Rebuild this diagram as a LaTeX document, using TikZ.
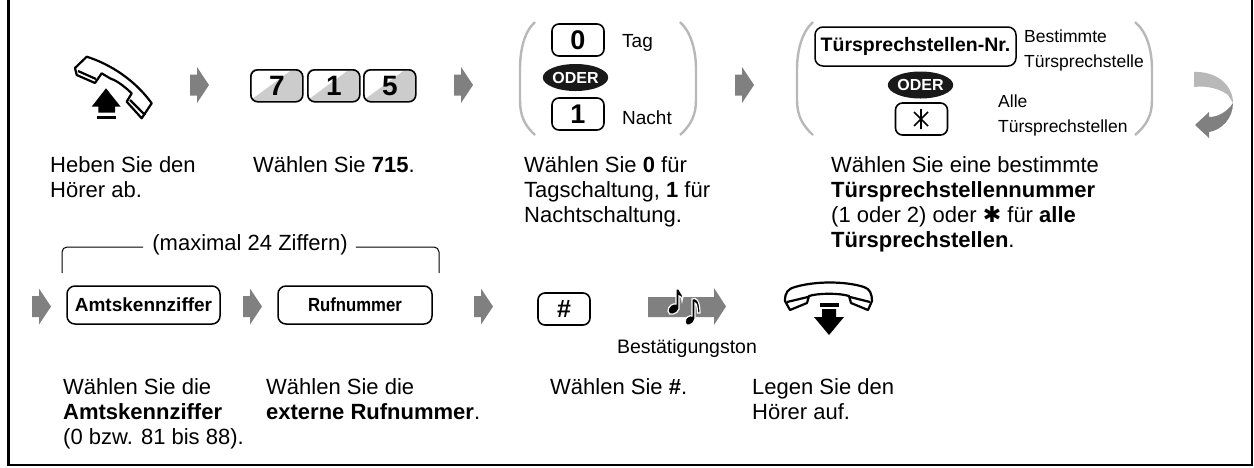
\documentclass[tikz,border=0pt]{standalone}
\usepackage{fontspec}
\usepackage{graphicx}
\setmainfont{Liberation Sans}
\newfontfamily\symfont{DejaVu Sans}
\usetikzlibrary{shapes.geometric}
\definecolor{arrowgray}{gray}{0.5}
\definecolor{brk}{gray}{0.72}
\definecolor{keyshade}{gray}{0.8}
\definecolor{ink}{gray}{0.1}
\tikzset{
  keybox/.style={draw=black,line width=1.6pt,rounded corners=7pt,fill=white,minimum width=52pt,minimum height=32pt,inner sep=0pt,font=\fontsize{27}{27}\selectfont\bfseries},
  softkey/.style={draw=black,line width=1.5pt,rounded corners=8pt,fill=white,inner sep=0pt,font=\fontsize{19}{19}\selectfont\bfseries},
  desc/.style={anchor=north west,align=left,inner sep=0pt,font=\fontsize{22}{25}\selectfont},
  lab/.style={anchor=west,align=left,inner sep=0pt,font=\fontsize{19}{19}\selectfont},
  smalllab/.style={anchor=west,align=left,inner sep=0pt,font=\fontsize{17.5}{25}\selectfont},
  oder/.style={ellipse,fill=ink,text=white,inner sep=0pt,minimum width=55pt,minimum height=27pt,font=\fontsize{16}{16}\selectfont\bfseries},
  brack/.style={draw=brk,line width=2.4pt},
  notehalo/.style={draw=white,line width=1.2pt,fill=black},
}
\newcommand{\flowarrow}[2]{\fill[arrowgray] (#1-19,#2-10.5) -- (#1-12,#2-10.5) -- (#1-12,#2-18) -- (#1,#2) -- (#1-12,#2+18) -- (#1-12,#2+10.5) -- (#1-19,#2+10.5) -- cycle;}
\begin{document}
\begin{tikzpicture}[x=1pt,y=-1pt]
\useasboundingbox (0,0) rectangle (1254,467);
\draw[line width=2.5pt] (8.5,-3) -- (8.5,465) -- (1252,465) -- (1252,-3);

% off-hook handset
\begin{scope}[line width=2.2pt,line join=round]
\draw (86.7,56.7) .. controls (110,64) and (135,80) .. (151.7,103.3) -- (141.7,118.3) -- (126.7,101.7) -- (131.7,93.3) .. controls (122,84) and (115,80) .. (110,78.3) -- (101.7,73.3) -- (95,83) -- (76.7,75) -- (75,68) -- cycle;
\draw (78,71) -- (96,79);
\draw (130,100) -- (145,115);
\end{scope}
\fill (106,88.3) -- (120.7,106.7) -- (115,106.7) -- (115,112.7) -- (98.3,112.7) -- (98.3,106.7) -- (91.7,106.7) -- cycle;
\fill (97.3,116) rectangle (116,118.7);

\flowarrow{209}{85}
% 715
\foreach \nm/\xa/\d in {k7/250/7,k1/307/1,k5/363/5}{
  \fill[keyshade,rounded corners=6pt] (\xa,69) rectangle ++(52,32);
  \fill[white] (\xa+2,99) -- (\xa+40,71) -- (\xa+2,71) -- cycle;
  \node[draw=black,line width=1.6pt,rounded corners=7pt,minimum width=52pt,minimum height=32pt,inner sep=0pt,anchor=north west,font=\fontsize{28}{28}\selectfont\bfseries] (\nm) at (\xa,69) {\d};
}
\flowarrow{473}{85}

% bracket day/night
\draw[brack] (535,22) .. controls (524,32) and (520,50) .. (520,70) -- (520,100) .. controls (520,115) and (524,125) .. (535,135);
\draw[brack] (680,22) .. controls (691,32) and (696,50) .. (696,70) -- (696,100) .. controls (696,115) and (691,125) .. (680,135);
\node[keybox] (k0) at (578,40) {0};
\node[oder] (o1) at (575.5,77.5) {ODER};
\node[keybox] (k1b) at (578,114) {1};
\node[lab] (tag) at (622,43) {Tag};
\node[lab] (nacht) at (622,118) {Nacht};
\flowarrow{754}{85}

% bracket door
\draw[brack] (813,22) .. controls (802,32) and (797,50) .. (797,70) -- (797,100) .. controls (797,115) and (802,125) .. (813,135);
\draw[brack] (1135,22) .. controls (1147,32) and (1152,50) .. (1152,70) -- (1152,100) .. controls (1152,115) and (1147,125) .. (1135,135);
\node[softkey,minimum width=201pt,minimum height=39pt] (tnr) at (915.5,46.5) {\fontsize{19.5}{19.5}\selectfont Türsprechstellen-Nr.};
\node[oder] (o2) at (920.5,85) {ODER};
\node[keybox] (star) at (921.5,119) {};
\draw[line width=1.6pt] (921,109) -- (921,129) (914,112) -- (928,126) (928,112) -- (914,126);
\node[smalllab] (best) at (1024,50) {Bestimmte\\Türsprechstelle};
\node[smalllab] (alle) at (998,115.5) {Alle\\Türsprechstellen};

% return arrow
\fill[brk] (1194,72) .. controls (1215,71) and (1233,84) .. (1233,103) -- (1228,95) .. controls (1222,90) and (1208,85) .. (1194,87) -- cycle;
\fill[arrowgray] (1233,103) .. controls (1233,118) and (1222,130) .. (1209,132) -- (1209,138) -- (1195,125) -- (1209,112) -- (1209,117) .. controls (1218,117) and (1227,112) .. (1233,103) -- cycle;

% descriptions row 1
\node[desc] (d1) at (50,156) {Heben Sie den\\Hörer ab.};
\node[desc] (d2) at (253,156) {Wählen Sie \textbf{715}.};
\node[desc] (d3) at (524,156) {Wählen Sie \textbf{0} für\\Tagschaltung, \textbf{1} für\\Nachtschaltung.};
\node[desc] (d4) at (831,156) {Wählen Sie eine bestimmte\\\textbf{Türsprechstellennummer}\\(1 oder 2) oder {\symfont ✱} für \textbf{alle}\\\textbf{Türsprechstellen}.};

% brace
\node[inner sep=0pt,font=\fontsize{22}{22}\selectfont] (max) at (250,245) {(maximal 24 Ziffern)};
\coordinate (bl) at (62,273);
\coordinate (br) at (439,273);
\draw[line width=1pt,rounded corners=5pt] (bl) |- ([xshift=-9pt,yshift=-2pt]max.west);
\draw[line width=1pt,rounded corners=5pt] (br) |- ([xshift=8pt,yshift=-2pt]max.east);

% row 2
\flowarrow{51}{306.5}
\node[softkey,minimum width=153pt,minimum height=38pt] (amt) at (143.5,305) {Amtskennziffer};
\flowarrow{262}{306.5}
\node[softkey,minimum width=154pt,minimum height=38pt] (ruf) at (355,305) {\scalebox{0.88}[1]{Rufnummer}};
\flowarrow{493}{306.5}
\node[keybox,font=\fontsize{25}{25}\selectfont\bfseries] (hash) at (564,309) {\#};
% tone arrow
\fill[arrowgray] (648,297) -- (714,297) -- (714,288) -- (726,306.5) -- (714,325) -- (714,317) -- (648,317) -- cycle;
% first note
\draw[notehalo] (668,311) .. controls (668,306) and (673,303) .. (676,304) -- (676,289) -- (679,289) .. controls (680,293) and (685,295) .. (682,301) .. controls (682,297) and (680,296) .. (679,296) -- (679,309) .. controls (678,314) and (668,317) .. (668,311) -- cycle;
% second note
\draw[notehalo] (685,322) .. controls (685,317) and (690,315) .. (692,316) -- (692,299) .. controls (696,297) and (700,300) .. (700,313) -- (697.5,313) .. controls (697.5,306) and (696,303) .. (695,303) -- (695,319) .. controls (694,325) and (685,328) .. (685,322) -- cycle;
\node[inner sep=0pt,font=\fontsize{19.5}{19.5}\selectfont] (bton) at (687,348) {Bestätigungston};
% on-hook handset
\begin{scope}[line width=2.2pt,line join=round]
\draw (785,301) .. controls (785,292) and (788,289) .. (795,287) .. controls (815,281) and (845,281) .. (864,287) .. controls (870,289) and (872,294) .. (872,301) -- (868,310) -- (851,303) -- (849,296) .. controls (840,293) and (818,293) .. (809,296) -- (807,303) -- (790,310) -- cycle;
\draw (787,302) -- (808,297);
\draw (870,302) -- (850,297);
\end{scope}
\fill (820,303) rectangle (839,307);
\fill (822,309) -- (836,309) -- (836,317) -- (844,317) -- (829,335) -- (814,317) -- (822,317) -- cycle;

% descriptions row 2
\node[desc] (d5) at (63,378) {Wählen Sie die\\\textbf{Amtskennziffer}\\(0 bzw. 81 bis 88).};
\node[desc] (d6) at (266,378) {Wählen Sie die\\\textbf{externe Rufnummer}.};
\node[desc] (d7) at (550,378) {Wählen Sie \textbf{\#}.};
\node[desc] (d8) at (752,378) {Legen Sie den\\Hörer auf.};
\end{tikzpicture}
\end{document}
